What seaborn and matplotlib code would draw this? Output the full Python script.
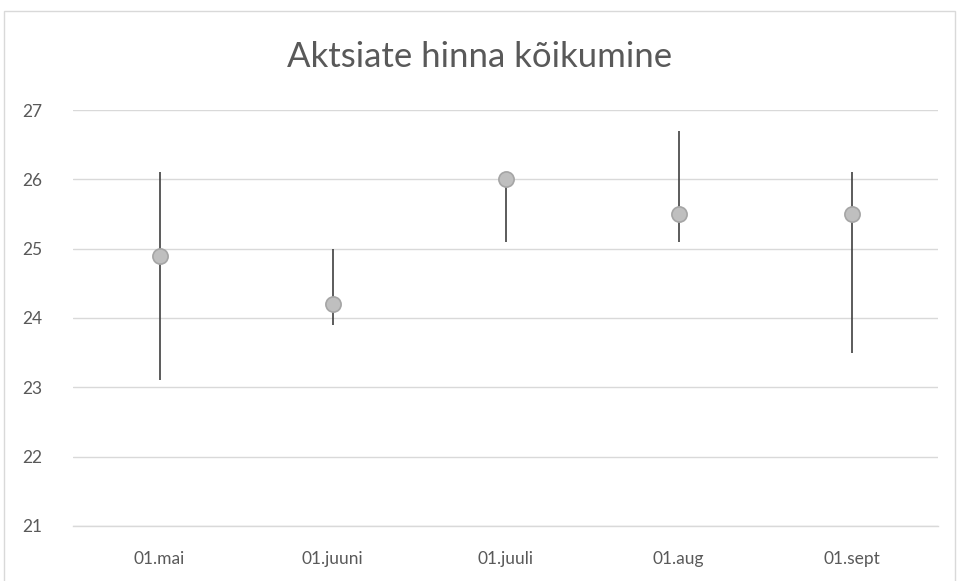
import seaborn as sns
import pandas as pd
import numpy as np
import matplotlib.pyplot as plt
from matplotlib.patches import Rectangle

dates = ['01.mai', '01.juuni', '01.juuli', '01.aug', '01.sept']
high = [26.1, 25.0, 26.0, 26.7, 26.1]
low = [23.1, 23.9, 25.1, 25.1, 23.5]
close = [24.9, 24.2, 26.0, 25.5, 25.5]

df = pd.DataFrame({'date': dates, 'high': high, 'low': low, 'close': close})

sns.set_style('white')
plt.rcParams['font.family'] = ['Lato', 'DejaVu Sans']

fig = plt.figure(figsize=(9.59, 5.81), dpi=100)
ax = fig.add_axes([73/959, 55/581, 865/959, 416/581])

# chart border
fig.patches.append(Rectangle((4/959, -0.05), 951/959, 1.05 - 11/581,
                             transform=fig.transFigure, fill=False,
                             edgecolor='#d9d9d9', linewidth=1.0))

ax.vlines(df['date'], df['low'], df['high'], color='#404040', linewidth=1.2, zorder=2)
sns.scatterplot(data=df, x='date', y='close', ax=ax, s=120, color='#bfbfbf',
                edgecolor='#a5a5a5', linewidth=1.2, zorder=3)

ax.set_xlim(-0.5, 4.5)
ax.set_ylim(21, 27)
ax.set_yticks(range(21, 28))
ax.yaxis.grid(True, color='#d9d9d9', linewidth=1.0)
ax.set_axisbelow(True)
for s in ['top', 'right', 'left']:
    ax.spines[s].set_visible(False)
ax.spines['bottom'].set_color('#d9d9d9')
ax.spines['bottom'].set_linewidth(1.0)

ax.set_xticks(np.arange(-0.5, 5, 1), minor=True)
ax.tick_params(axis='x', which='minor', length=6, color='#d9d9d9', width=1.0)
ax.tick_params(axis='x', which='major', length=0, pad=18, labelsize=12.5, labelcolor='#595959')
ax.tick_params(axis='y', length=0, pad=22, labelsize=12.5, labelcolor='#595959')

ax.set_xlabel('')
ax.set_ylabel('')
fig.text(0.5, 0.902, 'Aktsiate hinna kõikumine', ha='center', va='center',
         fontsize=25, color='#595959')

fig.savefig('out.png', dpi=100)
